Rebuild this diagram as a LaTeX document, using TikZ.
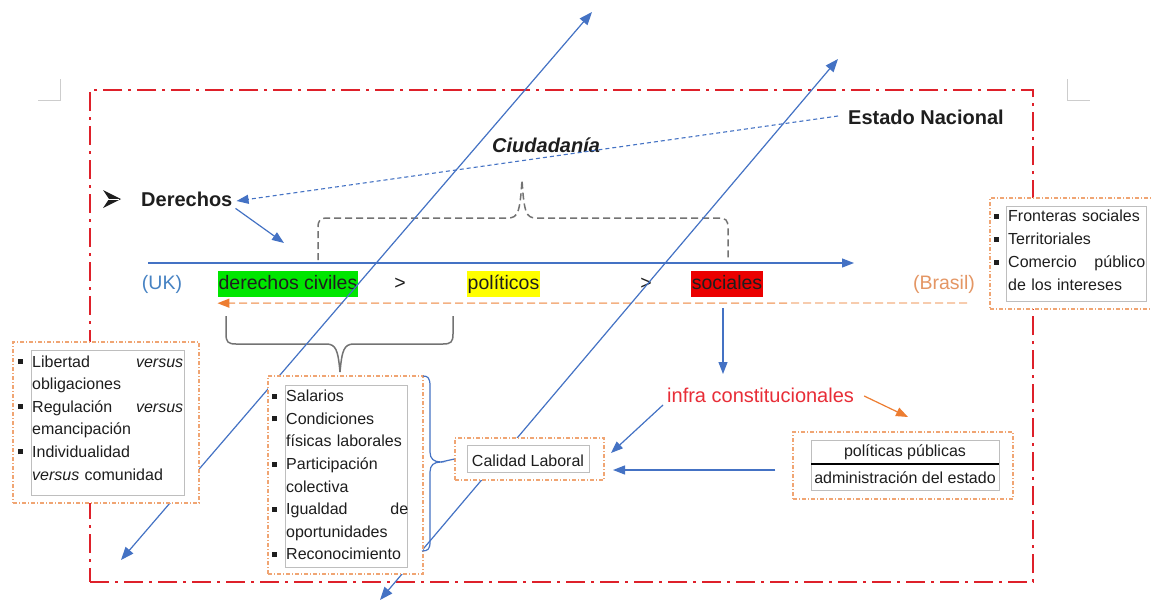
\documentclass[tikz,border=0pt]{standalone}
\usepackage{fontspec}
\setmainfont{Liberation Sans}
\usetikzlibrary{arrows.meta}
\definecolor{bl}{RGB}{68,114,196}
\definecolor{frred}{RGB}{222,32,42}
\definecolor{orbox}{RGB}{240,165,115}
\definecolor{orline}{RGB}{244,177,131}
\definecolor{ordark}{RGB}{237,125,49}
\definecolor{ukblue}{RGB}{70,130,195}
\definecolor{brasil}{RGB}{228,150,100}
\definecolor{infrared}{RGB}{232,45,55}
\definecolor{hlgreen}{RGB}{0,230,0}
\definecolor{hlyellow}{RGB}{255,255,0}
\definecolor{hlred}{RGB}{235,0,0}
\definecolor{gbox}{RGB}{190,190,190}
\definecolor{braceg}{RGB}{115,115,115}
\definecolor{cornerg}{RGB}{205,205,205}
\definecolor{txtc}{RGB}{30,30,30}
\newcommand{\bsq}{\leavevmode\llap{\rule[3pt]{5pt}{5pt}\hspace{9.5pt}}}
\tikzset{
 blarr/.style={draw=bl, line width=1.2pt, -{Triangle[length=12pt,width=9pt]}},
 dblarr/.style={draw=bl, line width=1.2pt, {Triangle[length=13pt,width=10pt]}-{Triangle[length=13pt,width=10pt]}},
 orarr/.style={draw=ordark, line width=1.2pt, -{Triangle[length=12pt,width=9pt]}},
 obox/.style={draw=orbox, line width=1.2pt, dash pattern=on 4pt off 2pt on 1pt off 2pt, fill=white, inner sep=0pt},
 ibox/.style={draw=gbox, line width=0.9pt},
 bigtxt/.style={inner sep=0pt, text=txtc, font=\fontsize{20}{24}\selectfont\bfseries},
 rowtxt/.style={inner sep=0pt, anchor=base, font=\fontsize{19.5}{23}\selectfont},
 hl/.style={anchor=base, inner xsep=1pt, inner ysep=3.5pt, text height=14.5pt, text depth=4.5pt, text=txtc, font=\fontsize{19.5}{23}\selectfont},
 smalltxt/.style={inner sep=0pt, text=txtc, font=\fontsize{16}{22.6}\selectfont},
 listtxt/.style={smalltxt, anchor=base west, align=left},
 gbrace/.style={draw=braceg, line width=1.5pt},
}
\begin{document}
\begin{tikzpicture}[x=1pt,y=-1pt]
\useasboundingbox (0,0) rectangle (1151,602);
\fill[white] (0,0) rectangle (1151,602);

% page corner marks
\draw[cornerg, line width=1pt] (38,100) -- (60,100) -- (60,79);
\draw[cornerg, line width=1pt] (1067,79) -- (1067,100) -- (1090,100);

% red frame
\node[draw=frred, line width=2.2pt, dash pattern=on 19pt off 6pt on 3pt off 6pt,
  minimum width=943pt, minimum height=492pt, inner sep=0pt] (frame) at (561.5,336) {};

% titles
\node[bigtxt, anchor=base west] (est) at (848,124) {Estado Nacional};
\node[bigtxt, anchor=base west, font=\fontsize{20}{24}\selectfont\bfseries\itshape] (ciu) at (492,152) {Ciudadanía};
% arrowhead bullet
\fill[txtc] (103,190) -- (121,199) -- (103,208) -- (109,199) -- cycle;
\draw[white, line width=0.7pt] (108,199) -- (119,199);
\node[bigtxt, anchor=base west] (der) at (141,206.5) {Derechos};

% dashed arrow from Estado Nacional to Derechos
\draw[draw=bl, line width=1.1pt, dash pattern=on 4pt off 3pt, -{Triangle[length=12pt,width=9pt]}]
  ([xshift=-10pt,yshift=8pt]est.base west) -- ([xshift=4pt,yshift=5.5pt]der.base east);

% axis
\coordinate (axL) at (148,263);
\coordinate (axR) at (854,263);
\draw[blarr] (axL) -- (axR);
\coordinate (axin) at (284,243);
\draw[blarr] ([xshift=3pt,yshift=-1.5pt]der.south east) -- (axin);

% upper brace (dashed)
\draw[gbrace, dash pattern=on 7pt off 4pt]
  (318,260) -- (318,228) .. controls (318,220) and (320,218) .. (328,218) -- (508,218)
  .. controls (518,218) and (520,212) .. (522,180)
  .. controls (524,212) and (526,218) .. (536,218) -- (718,218)
  .. controls (726,218) and (728,220) .. (728,228) -- (728,258);

% row
\node[rowtxt, text=ukblue] (uk) at (162,289) {(UK)};
\node[hl, fill=hlgreen] (dc) at (288,289) {derechos civiles};
\node[rowtxt, text=txtc] (g1) at (400,289) {>};
\node[hl, fill=hlyellow] (pl) at (503.5,289) {políticos};
\node[rowtxt, text=txtc] (g2) at (646,289) {>};
\node[hl, fill=hlred] (soc) at (727,289) {sociales};
\node[rowtxt, text=brasil] (bra) at (944,289) {(Brasil)};

% orange dashed arrow
\draw[draw=orline, line width=1.4pt, dash pattern=on 8pt off 4pt, -{Triangle[length=12pt,width=9pt,color=ordark]}]
  ([xshift=-8pt,yshift=-14pt]bra.base east) -- ([yshift=-6pt]dc.south west);

% lower brace
\draw[gbrace]
  (226,316) -- (226,334) .. controls (226,342) and (228,344) .. (236,344) -- (326,344)
  .. controls (336,344) and (338,350) .. (340,372)
  .. controls (342,350) and (344,344) .. (354,344) -- (443,344)
  .. controls (451,344) and (453,342) .. (453,334) -- (453,316);

% infra constitucionales
\node[inner sep=0pt, anchor=base west, text=infrared, font=\fontsize{20}{24}\selectfont] (infra) at (667,402) {infra constitucionales};
\coordinate (socdown) at (723,374);
\draw[blarr] ([xshift=-4pt,yshift=-11pt]soc.south) -- (socdown);
\coordinate (ortip) at (908,417);
\draw[orarr] ([xshift=10pt,yshift=6pt]infra.base east) -- (ortip);

% diagonal double arrows
\coordinate (a1) at (121,560);
\coordinate (a2) at (592,12);
\draw[dblarr] (a1) -- (a2);
\coordinate (b1) at (380,600);
\coordinate (b2) at (838,59);
\draw[dblarr] (b1) -- (b2);

% left box
\node[obox, minimum width=186pt, minimum height=161pt] (lbox) at (106,422.5) {};
\draw[ibox] (31,350) rectangle (184,495);
\node[listtxt, text width=151pt] (ltx) at (32,367)
 {\bsq Libertad\hfill\textit{versus}\\
  obligaciones\\
  \bsq Regulación\hfill\textit{versus}\\
  emancipación\\
  \bsq Individualidad\\
  \textit{versus} comunidad};

% salarios box
\node[obox, minimum width=155pt, minimum height=198pt] (sbox) at (345.5,475) {};
\draw[ibox] (285,385) rectangle (407,567);
\node[listtxt, text width=122pt] (stx) at (286,401.7)
 {\bsq Salarios\\
  \bsq Condiciones\\
  físicas laborales\\
  \bsq Participación\\
  colectiva\\
  \bsq Igualdad\hfill de\\
  oportunidades\\
  \bsq Reconocimiento};

% fronteras box
\node[obox, minimum width=172pt, minimum height=111pt] (fbox) at (1076,253.5) {};
\draw[ibox] (1006,206) rectangle (1146,301);
\node[listtxt, text width=137pt, font=\fontsize{16}{23}\selectfont] (ftx) at (1008,221.7)
 {\bsq Fronteras sociales\\
  \bsq Territoriales\\
  \bsq Comercio\hfill público\\
  de los intereses};

% calidad box
\node[obox, minimum width=149pt, minimum height=42pt] (cal) at (529.5,459) {};
\draw[ibox] (467,445) rectangle (589,472);
\node[smalltxt, anchor=base] (caltx) at (528,466) {Calidad Laboral};

% politicas box
\node[obox, minimum width=220pt, minimum height=67pt] (pp) at (903,465.5) {};
\draw[ibox] (811,440) rectangle (999,490);
\draw[black, line width=2.5pt] (811,464) -- (999,464);
\node[smalltxt, anchor=base] (pp1) at (905,456) {políticas públicas};
\node[smalltxt, anchor=base] (pp2) at (905,483) {administración del estado};

% blue brace right of salarios box
\coordinate (brtip) at (441,462);
\draw[draw=bl, line width=1.2pt]
  (423,376) .. controls (428,376) and (430,378) .. (430,386) -- (430,452)
  .. controls (430,459) and (434,462) .. (brtip)
  .. controls (434,462) and (430,465) .. (430,472) -- (430,542)
  .. controls (430,549) and (428,551) .. (422,551);
\draw[draw=bl, line width=1.2pt] (brtip) -- (cal.west);

% arrows into calidad
\coordinate (caltipA) at (611,453);
\draw[blarr] ([xshift=-4pt,yshift=-3pt]infra.base west) -- (caltipA);
\coordinate (caltipB) at (613,470);
\draw[blarr] ([xshift=-17pt,yshift=-4.5pt]pp.west) -- (caltipB);
\end{tikzpicture}
\end{document}
